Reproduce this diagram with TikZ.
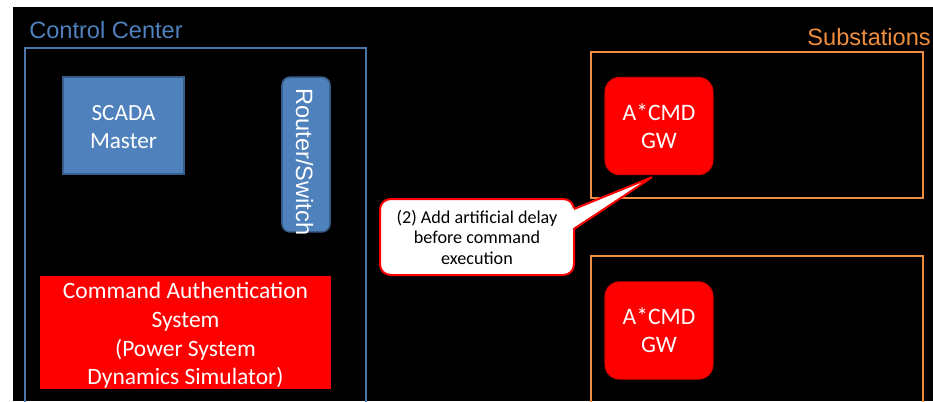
\documentclass[tikz,border=0pt]{standalone}
\usepackage{fontspec}
\setmainfont{Carlito}
\newfontfamily\arialf{Liberation Sans}
\usetikzlibrary{calc}
\definecolor{ccblue}{HTML}{4F81BD}
\definecolor{ccblueline}{HTML}{4A76A8}
\definecolor{ccbluedark}{HTML}{385D8A}
\definecolor{ssorange}{HTML}{EE8E3E}
\definecolor{cmdred}{HTML}{FF0000}
\tikzset{
  bluebox/.style={fill=ccblue, draw=ccbluedark, line width=1.2pt, text=white, align=center, inner sep=0pt},
  redbox/.style={fill=cmdred, text=white, align=center, inner sep=0pt},
  boxtext/.style={text=white, align=center, inner sep=0pt},
  gwbox/.style={fill=cmdred, draw=cmdred!85!black, line width=0.8pt, rounded corners=11pt, text=white, align=center, inner sep=0pt, minimum width=81pt, minimum height=73pt, font=\fontsize{17.7}{21.2}\selectfont},
  areabox/.style={line width=1.5pt},
  calloutbox/.style={fill=white, draw=cmdred, line width=1.5pt, rounded corners=8pt, align=center, inner sep=0pt, text=black, font=\fontsize{13.6}{15.4}\selectfont}
}
\begin{document}
\begin{tikzpicture}[x=0.75pt,y=-0.75pt]
\useasboundingbox (0,0) rectangle (933,401);
\fill[white] (0,0) rectangle (933,401);
\clip (0,0) rectangle (933,401);
\fill[black] (13,7) rectangle (933,401);

% areas
\draw[areabox, draw=ccblueline] (25,48) rectangle (366,410);
\node[anchor=base west, text=ccblue, font=\arialf\fontsize{17.7}{20}\selectfont, inner sep=0pt] (cctitle) at (29,38) {Control Center};
\draw[areabox, draw=ssorange] (591,52) rectangle (923,198);
\draw[areabox, draw=ssorange] (591,256) rectangle (923,410);
\node[anchor=base east, text=ssorange, font=\arialf\fontsize{17.7}{20}\selectfont, inner sep=0pt] (sstitle) at (931,45) {Substations};

% control center nodes
\node[bluebox, minimum width=90.75pt, minimum height=72.75pt] (scada) at (123.5,125.5) {};
\node[boxtext, font=\fontsize{17.4}{21}\selectfont] (scadatext) at ($(scada.center)+(0,2)$) {SCADA\\Master};
\node[bluebox, rounded corners=6pt, minimum width=36pt, minimum height=116pt] (router) at (306,154.5) {};
\node[rotate=-90, anchor=base, text=white, font=\arialf\fontsize{17.7}{20}\selectfont, inner sep=0pt] (routertext) at (296,162) {Router/Switch};
\node[redbox, minimum width=218.25pt, minimum height=84.75pt] (cas) at (185.5,332.5) {};
\node[boxtext, font=\fontsize{17.6}{21.4}\selectfont] (castext) at ($(cas.center)+(0,3)$) {Command Authentication\\System\\(Power System\\Dynamics Simulator)};

% substation gateways
\node[gwbox] (gw1) at (659,126) {A*CMD\\GW};
\node[gwbox] (gw2) at (659,330.5) {A*CMD\\GW};

% callout
\node[calloutbox, minimum width=145.5pt, minimum height=57pt] (note) at (477,237) {(2) Add artificial delay\\before command\\execution};
\coordinate (tip) at ($(gw1.south)+(-7,2)$);
\fill[white] ($(note.east)+(-3,-28)$) -- (tip) -- ($(note.east)+(-3,-8)$) -- cycle;
\draw[cmdred, line width=1.5pt, line join=miter] ($(note.east)+(-1,-28)$) -- (tip) -- ($(note.east)+(-1,-8)$);
\end{tikzpicture}
\end{document}
